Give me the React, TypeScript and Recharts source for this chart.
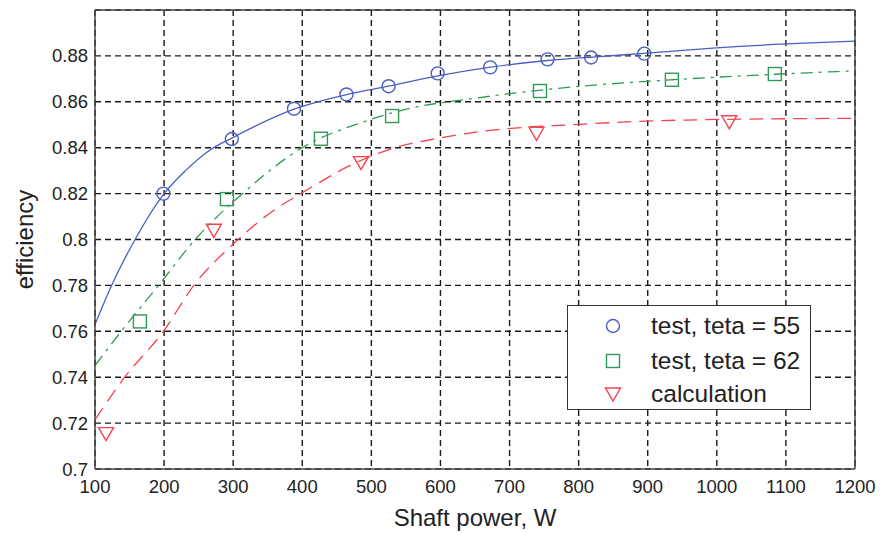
import React from 'react';
import {
  ComposedChart,
  Line,
  Scatter,
  XAxis,
  YAxis,
  CartesianGrid,
  ReferenceLine,
  Legend
} from 'recharts';

// measured points
const test55Power = [199, 298, 388, 464, 525, 596, 672, 755, 818, 895];
const test55Eff = [0.82, 0.8438, 0.857, 0.8632, 0.8668, 0.8724, 0.875, 0.8785, 0.8793, 0.881];

const test62Power = [165, 291, 427, 530, 744, 935, 1084];
const test62Eff = [0.7643, 0.8176, 0.8439, 0.8538, 0.8647, 0.8696, 0.8721];

const calcPower = [116, 272, 485, 739, 1018];
const calcEff = [0.7154, 0.804, 0.8335, 0.8463, 0.8513];

// fitted curves
const fit55Power = [100, 124, 158, 200, 231, 265, 300, 390, 465, 525, 600, 670, 755, 820, 900, 1000, 1100, 1200];
const fit55Eff = [0.763, 0.78, 0.8, 0.82, 0.83, 0.8387, 0.8445, 0.857, 0.8632, 0.8668, 0.8715, 0.875, 0.878, 0.8795, 0.8812, 0.8835, 0.8852, 0.8864];

const fit62Power = [100, 138, 192, 245, 315, 400, 489, 571, 629, 768, 935, 1084, 1200];
const fit62Eff = [0.7451, 0.76, 0.78, 0.8, 0.8204, 0.84, 0.8513, 0.8581, 0.8607, 0.8658, 0.8696, 0.872, 0.8735];

const fitCalcPower = [100, 143, 199, 243, 300, 361, 400, 485, 542, 590, 657, 802, 947, 1200];
const fitCalcEff = [0.7215, 0.74, 0.76, 0.78, 0.798, 0.8132, 0.8204, 0.8345, 0.8407, 0.8437, 0.847, 0.8502, 0.852, 0.8528];

const xTicks = [100, 200, 300, 400, 500, 600, 700, 800, 900, 1000, 1100, 1200];
const yTicks = [0.7, 0.72, 0.74, 0.76, 0.78, 0.8, 0.82, 0.84, 0.86, 0.88];

const legendLabels = ['test, teta = 55', 'test, teta = 62', 'calculation'];

const BLUE = '#4a5fc4';
const GREEN = '#2f9a55';
const RED = '#f5424f';
const FONT = '"Liberation Sans", Arial, sans-serif';

const toPoints = (xs: number[], ys: number[]) => xs.map((x, i) => ({ x, y: ys[i] }));

const test55 = toPoints(test55Power, test55Eff);
const test62 = toPoints(test62Power, test62Eff);
const calc = toPoints(calcPower, calcEff);
const fit55 = toPoints(fit55Power, fit55Eff);
const fit62 = toPoints(fit62Power, fit62Eff);
const fitCalc = toPoints(fitCalcPower, fitCalcEff);

// eslint-disable-next-line @typescript-eslint/no-explicit-any
const CircleMark = (props: any) => {
  const { cx = 0, cy = 0 } = props;
  return <circle cx={cx} cy={cy} r={6.5} fill="none" stroke={BLUE} strokeWidth={1.4} />;
};

// eslint-disable-next-line @typescript-eslint/no-explicit-any
const SquareMark = (props: any) => {
  const { cx = 0, cy = 0 } = props;
  return <rect x={cx - 6.5} y={cy - 6.5} width={13} height={13} fill="none" stroke={GREEN} strokeWidth={1.4} />;
};

// eslint-disable-next-line @typescript-eslint/no-explicit-any
const TriangleMark = (props: any) => {
  const { cx = 0, cy = 0 } = props;
  return (
    <polygon
      points={`${cx - 7.5},${cy - 6} ${cx + 7.5},${cy - 6} ${cx},${cy + 7}`}
      fill="none"
      stroke={RED}
      strokeWidth={1.4}
    />
  );
};

const legendIcons = [
  <circle key="c" cx={10} cy={10} r={6.5} fill="none" stroke={BLUE} strokeWidth={1.4} />,
  <rect key="s" x={3.5} y={3.5} width={13} height={13} fill="none" stroke={GREEN} strokeWidth={1.4} />,
  <polygon key="t" points="2.5,4 17.5,4 10,17" fill="none" stroke={RED} strokeWidth={1.4} />
];

const renderLegend = () => (
  <div
    style={{
      position: 'relative',
      width: 244,
      height: 105,
      border: '1.5px solid #333',
      background: '#fff',
      boxSizing: 'border-box',
      fontFamily: FONT
    }}
  >
    {legendLabels.map((label, i) => (
      <div
        key={label}
        style={{
          position: 'absolute',
          left: 0,
          top: [20, 55, 88][i] - 14,
          height: 28,
          display: 'flex',
          alignItems: 'center'
        }}
      >
        <svg width={20} height={20} style={{ marginLeft: 35, marginRight: 28 }}>
          {legendIcons[i]}
        </svg>
        <span style={{ fontSize: 24.5, color: '#222', whiteSpace: 'nowrap' }}>{label}</span>
      </div>
    ))}
  </div>
);

export default function App() {
  return (
    <div style={{ position: 'absolute', left: 0, top: 0, background: '#fff' }}>
      <ComposedChart width={880} height={534} margin={{ top: 10, right: 25, bottom: 0, left: 0 }}>
        <CartesianGrid stroke="#1a1a1a" strokeWidth={1.4} strokeDasharray="6 4" />
        <XAxis
          type="number"
          dataKey="x"
          domain={[100, 1200]}
          ticks={xTicks}
          height={65}
          tickSize={0}
          tickMargin={11}
          axisLine={{ stroke: '#444', strokeWidth: 1.5 }}
          tick={{ fontSize: 18.5, fill: '#222', fontFamily: FONT }}
          label={{
            // eslint-disable-next-line @typescript-eslint/no-explicit-any
            content: ({ viewBox }: any) => (
              <text
                x={viewBox.x + viewBox.width / 2}
                y={viewBox.y + 57}
                textAnchor="middle"
                fontSize={24}
                fill="#222"
                fontFamily={FONT}
              >
                Shaft power, W
              </text>
            )
          }}
        />
        <YAxis
          type="number"
          dataKey="y"
          domain={[0.7, 0.9]}
          ticks={yTicks}
          width={95}
          tickSize={0}
          tickMargin={7}
          axisLine={{ stroke: '#444', strokeWidth: 1.5 }}
          tick={{ fontSize: 18.5, fill: '#222', fontFamily: FONT }}
          label={{
            // eslint-disable-next-line @typescript-eslint/no-explicit-any
            content: ({ viewBox }: any) => {
              const cx = viewBox.x + 33;
              const cy = viewBox.y + viewBox.height / 2;
              return (
                <text
                  x={cx}
                  y={cy}
                  transform={`rotate(-90, ${cx}, ${cy})`}
                  textAnchor="middle"
                  fontSize={24}
                  fill="#222"
                  fontFamily={FONT}
                >
                  efficiency
                </text>
              );
            }
          }}
        />
        <ReferenceLine x={1200} stroke="#444" strokeWidth={1.5} />
        <ReferenceLine y={0.9} stroke="#444" strokeWidth={1.5} />

        <Line
          data={fit55}
          dataKey="y"
          type="monotone"
          stroke={BLUE}
          strokeWidth={1.3}
          dot={false}
          activeDot={false}
          isAnimationActive={false}
          legendType="none"
        />
        <Line
          data={fit62}
          dataKey="y"
          type="monotone"
          stroke={GREEN}
          strokeWidth={1.3}
          strokeDasharray="12 6 3 6"
          dot={false}
          activeDot={false}
          isAnimationActive={false}
          legendType="none"
        />
        <Line
          data={fitCalc}
          dataKey="y"
          type="monotone"
          stroke={RED}
          strokeWidth={1.3}
          strokeDasharray="14 8"
          dot={false}
          activeDot={false}
          isAnimationActive={false}
          legendType="none"
        />

        <Scatter data={test55} dataKey="y" name={legendLabels[0]} shape={CircleMark} isAnimationActive={false} />
        <Scatter data={test62} dataKey="y" name={legendLabels[1]} shape={SquareMark} isAnimationActive={false} />
        <Scatter data={calc} dataKey="y" name={legendLabels[2]} shape={TriangleMark} isAnimationActive={false} />

        <Legend
          layout="horizontal"
          verticalAlign="middle"
          align="center"
          content={renderLegend}
          wrapperStyle={{ left: 567, top: 305, width: 245, height: 106 }}
        />
      </ComposedChart>
    </div>
  );
}
